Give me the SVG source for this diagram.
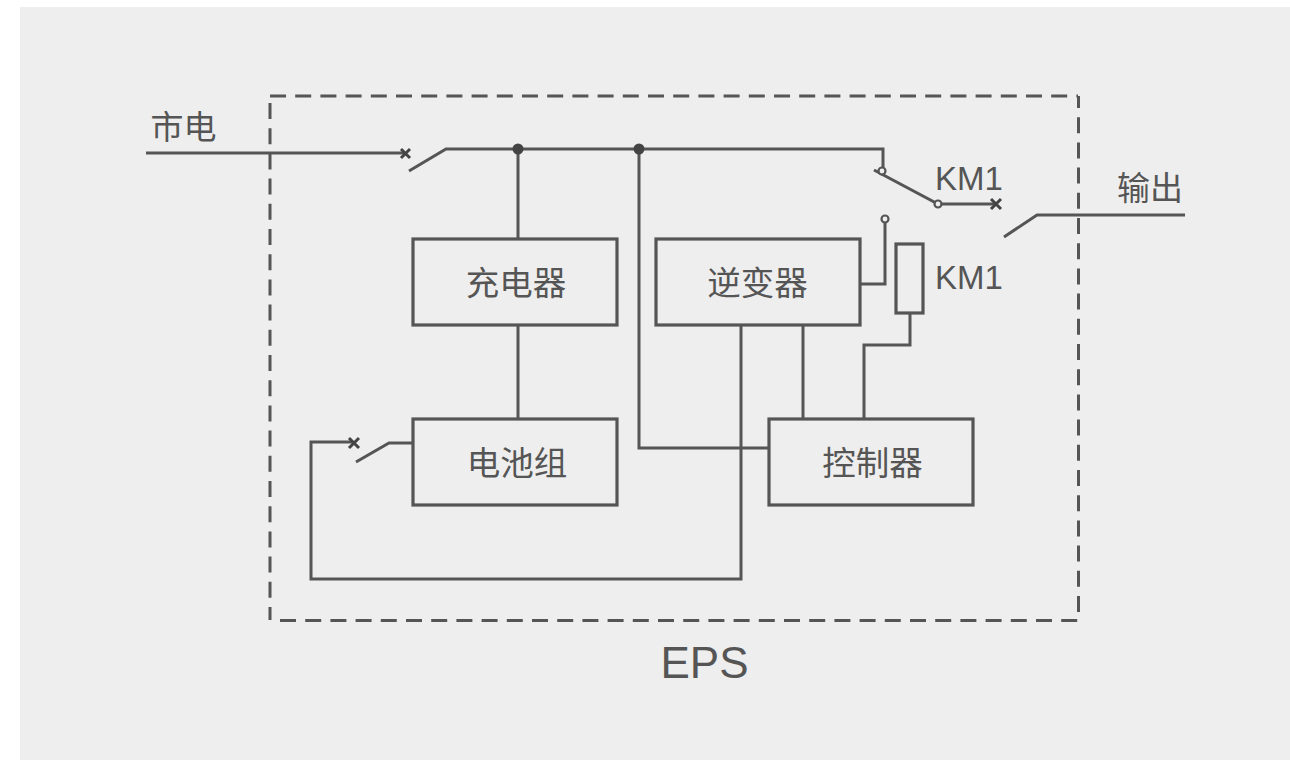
<svg xmlns="http://www.w3.org/2000/svg" width="1290" height="760" viewBox="0 0 1290 760">
<style>
.w{fill:none;stroke:#555;stroke-width:3}
.b{fill:none;stroke:#555;stroke-width:3.200}
.o{fill:#eee;stroke:#555;stroke-width:2.200}
.d{fill:#444}
.x{fill:none;stroke:#444;stroke-width:3}
.f{fill:none;stroke:#555;stroke-width:3;stroke-dasharray:16 9.200}
.c{font-family:"Noto Sans CJK SC","Liberation Sans",sans-serif;fill:#555}
.l{font-family:"Liberation Sans",Arial,sans-serif;fill:#555}
</style>
<rect width="1290" height="760" fill="#fff"/>
<rect x="20" y="7" width="1270" height="753" fill="#eee"/>
<g id="boundary">
<path class="f" d="M270 96H1078"/>
<path class="f" d="M270 103V620"/>
<path class="f" d="M280 620.500H1078"/>
<path class="f" d="M1078.500 612V96"/>
</g>
<g id="connectors">
<path class="w" d="M146 153H404"/>
<path class="w" d="M409 171L446 149H883V171"/>
<path class="w" d="M518 149V239M518 325V419"/>
<path class="w" d="M639 149V448H769"/>
<path class="w" d="M874 170L938 204H996"/>
<path class="w" d="M1004 237L1037 215H1185"/>
<path class="w" d="M860 284H885V219"/>
<path class="w" d="M803 325V419"/>
<path class="w" d="M864 419V345H910V313"/>
<path class="w" d="M741 325V579H311V442H352"/>
<path class="w" d="M356 462L389 443H413"/>
<path class="x" d="M401 149L410 158M410 149L401 158"/>
<path class="x" d="M991 199L1001 209M1001 199L991 209"/>
<path class="x" d="M349 438L359 448M359 438L349 448"/>
<circle class="d" cx="518" cy="149" r="5.500"/>
<circle class="d" cx="639" cy="149" r="5.500"/>
<circle class="o" cx="882" cy="171" r="3.500"/>
<circle class="o" cx="938" cy="204" r="3.500"/>
<circle class="o" cx="885" cy="219" r="3.500"/>
</g>
<g id="charger"><rect class="b" x="413" y="239" width="204" height="86"/><text class="c" x="516" y="295" font-size="33.500" text-anchor="middle">充电器</text></g>
<g id="inverter"><rect class="b" x="656" y="239" width="204" height="86"/><text class="c" x="757.500" y="295" font-size="33.500" text-anchor="middle">逆变器</text></g>
<g id="battery"><rect class="b" x="413" y="419" width="204" height="86"/><text class="c" x="517" y="475" font-size="33.500" text-anchor="middle">电池组</text></g>
<g id="controller"><rect class="b" x="769" y="419" width="204" height="86"/><text class="c" x="872.500" y="475" font-size="33.500" text-anchor="middle">控制器</text></g>
<g id="coil"><rect class="b" x="896" y="244" width="27" height="69"/></g>
<text class="c" x="183.500" y="139" font-size="33" text-anchor="middle">市电</text>
<text class="c" x="1150" y="200" font-size="33" text-anchor="middle">输出</text>
<text class="l" x="935" y="190" font-size="33">KM1</text>
<text class="l" x="935" y="289" font-size="33">KM1</text>
<text class="l" x="704.500" y="678" font-size="44" text-anchor="middle">EPS</text>
</svg>
